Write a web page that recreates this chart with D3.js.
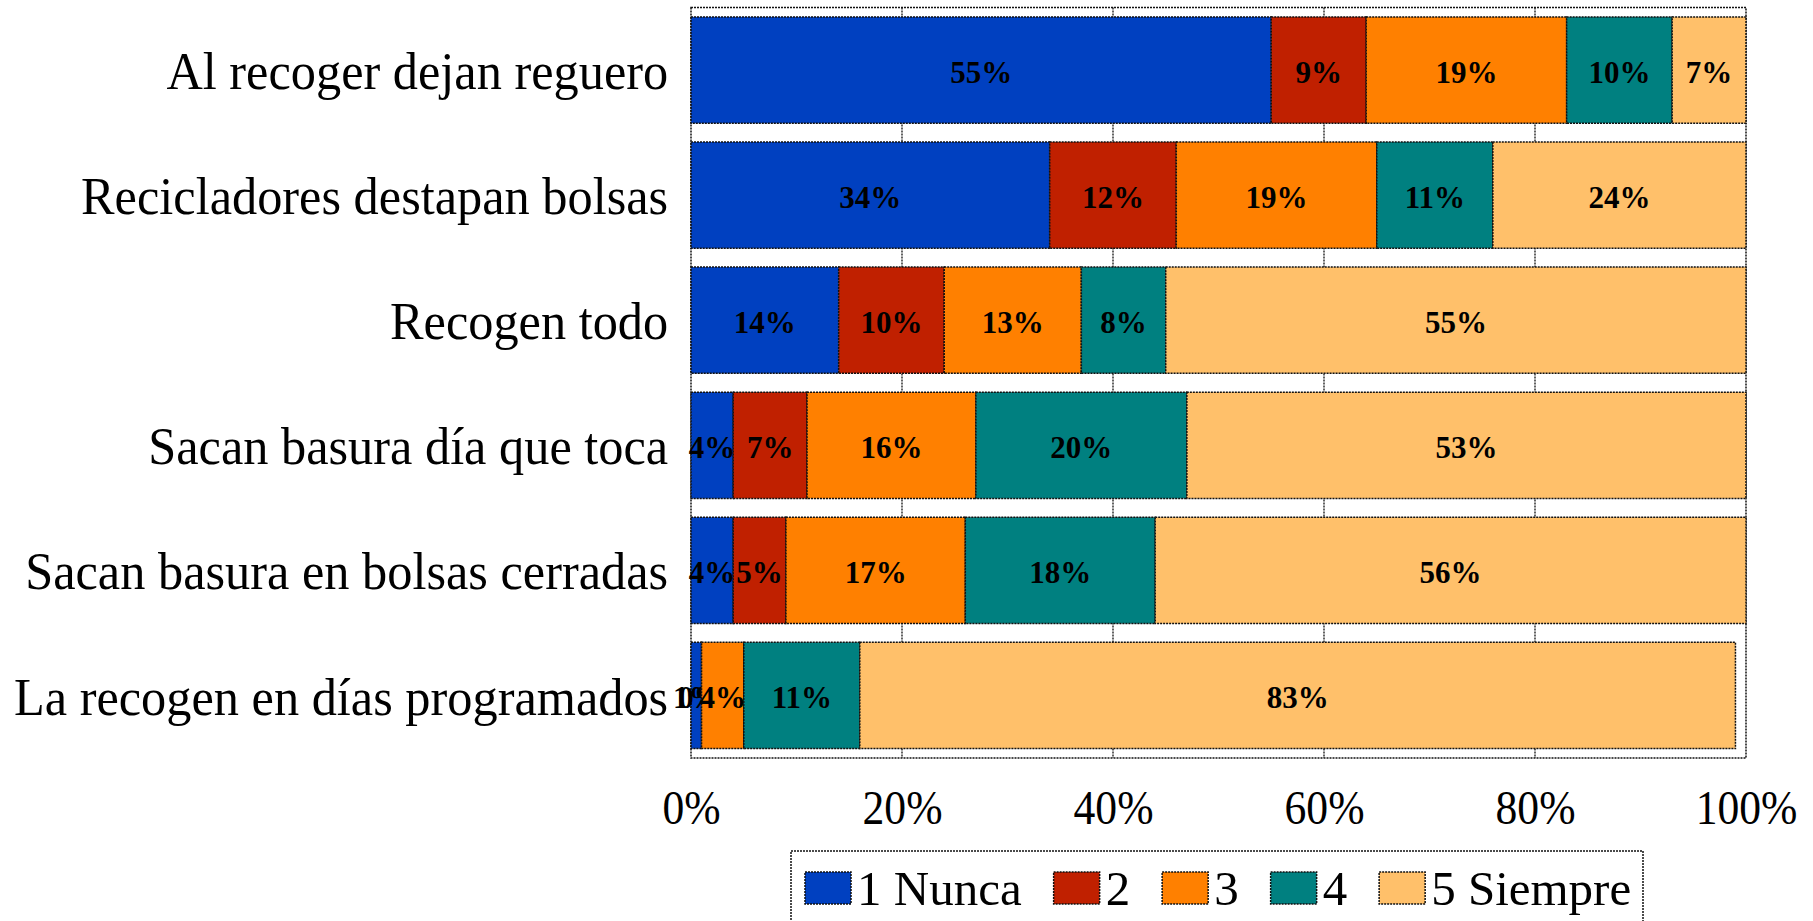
<!DOCTYPE html>
<html>
<head>
<meta charset="utf-8">
<script src="https://cdn.jsdelivr.net/npm/d3@7"></script>
<style>
  body { margin: 0; background: #fff; }
  svg { display: block; font-family: "Liberation Serif", "Times New Roman", serif; }
</style>
</head>
<body>
<svg id="chart" width="1813" height="921"></svg>
<script>
// survey answers, one row per question, share of each answer in %
var categories = [
  "Al recoger dejan reguero",
  "Recicladores destapan bolsas",
  "Recogen todo",
  "Sacan basura día que toca",
  "Sacan basura en bolsas cerradas",
  "La recogen en días programados"
];
var seriesNames = ["1 Nunca", "2", "3", "4", "5 Siempre"];
var nunca    = [55, 34, 14, 4, 4, 1];
var dos      = [9, 12, 10, 7, 5, 0];
var tres     = [19, 19, 13, 16, 17, 4];
var cuatro   = [10, 11, 8, 20, 18, 11];
var siempre  = [7, 24, 55, 53, 56, 83];
var tickValues = [0, 20, 40, 60, 80, 100];

var colors = ["#0040c0", "#c02000", "#ff8000", "#008080", "#ffc06a"];

var svg = d3.select("#chart");
var margin = { top: 7.5, left: 691, right: 1813 - 1746, bottom: 921 - 758 };
var w = 1813 - margin.left - margin.right,
    h = 921 - margin.top - margin.bottom;

var g = svg.append("g").attr("transform", "translate(" + margin.left + "," + margin.top + ")");

var x = d3.scaleLinear().domain([0, 100]).range([0, w]);
var y = d3.scaleBand().domain(categories).range([0, h]).paddingInner(0.15).paddingOuter(0.075);

// rows -> stacked table
var table = categories.map(function(c, i) {
  return { cat: c, s0: nunca[i], s1: dos[i], s2: tres[i], s3: cuatro[i], s4: siempre[i] };
});
var stack = d3.stack().keys(["s0", "s1", "s2", "s3", "s4"])(table);

var dotted = "2,1";

// grid lines
g.selectAll(".grid").data(tickValues.slice(1, -1)).enter().append("line")
  .attr("x1", function(d) { return x(d); })
  .attr("x2", function(d) { return x(d); })
  .attr("y1", 0).attr("y2", h)
  .attr("stroke", "#111").attr("stroke-width", 1.3).attr("stroke-dasharray", dotted);

// plot frame
g.append("rect").attr("x", 0).attr("y", 0).attr("width", w).attr("height", h)
  .attr("fill", "none").attr("stroke", "#111").attr("stroke-width", 1.5).attr("stroke-dasharray", dotted);

var layers = g.selectAll(".layer").data(stack).enter().append("g")
  .attr("fill", function(d, i) { return colors[i]; });

layers.selectAll("rect").data(function(d) { return d; }).enter().append("rect")
  .attr("x", function(d) { return x(d[0]); })
  .attr("y", function(d) { return y(d.data.cat); })
  .attr("width", function(d) { return x(d[1]) - x(d[0]); })
  .attr("height", y.bandwidth())
  .attr("stroke", "#111").attr("stroke-width", 1.5).attr("stroke-dasharray", dotted);

layers.selectAll("text").data(function(d) { return d; }).enter().append("text")
  .attr("x", function(d) { return (x(d[0]) + x(d[1])) / 2; })
  .attr("y", function(d) { return y(d.data.cat) + y.bandwidth() / 2; })
  .attr("dy", "0.42em")
  .attr("text-anchor", "middle")
  .attr("fill", "#000")
  .style("font-size", "31px")
  .style("font-weight", "bold")
  .text(function(d) { return Math.round(d[1] - d[0]) + "%"; });

// category axis
var yAxis = g.append("g").call(d3.axisLeft(y).tickSize(0).tickPadding(24));
yAxis.select(".domain").remove();
yAxis.selectAll("text")
  .attr("dy", "0.36em")
  .attr("fill", "#000")
  .attr("transform", "scale(0.95,1)")
  .style("font-size", "53px")
  .style("font-family", "Liberation Serif");

// value axis
var xAxis = g.append("g").attr("transform", "translate(0," + h + ")")
  .call(d3.axisBottom(x).tickValues(tickValues).tickSize(0).tickFormat(function(d) { return d + "%"; }));
xAxis.select(".domain").remove();
xAxis.selectAll("text")
  .attr("y", 66).attr("dy", 0)
  .attr("fill", "#000")
  .attr("transform", "scale(0.89,1)")
  .style("font-size", "49px")
  .style("font-family", "Liberation Serif");

// legend
var legend = svg.append("g");
legend.append("rect").attr("x", 791).attr("y", 851).attr("width", 852).attr("height", 120)
  .attr("fill", "#fff").attr("stroke", "#111").attr("stroke-width", 1.5).attr("stroke-dasharray", dotted);

var lx = 805;
seriesNames.forEach(function(name, i) {
  legend.append("rect").attr("x", lx).attr("y", 872).attr("width", 46).attr("height", 32)
    .attr("fill", colors[i]).attr("stroke", "#111").attr("stroke-width", 1.5).attr("stroke-dasharray", dotted);
  var t = legend.append("text").attr("x", lx + 52).attr("y", 905)
    .style("font-size", "49px").attr("fill", "#000").text(name);
  lx += 52 + t.node().getComputedTextLength() + 32;
});
</script>
</body>
</html>
